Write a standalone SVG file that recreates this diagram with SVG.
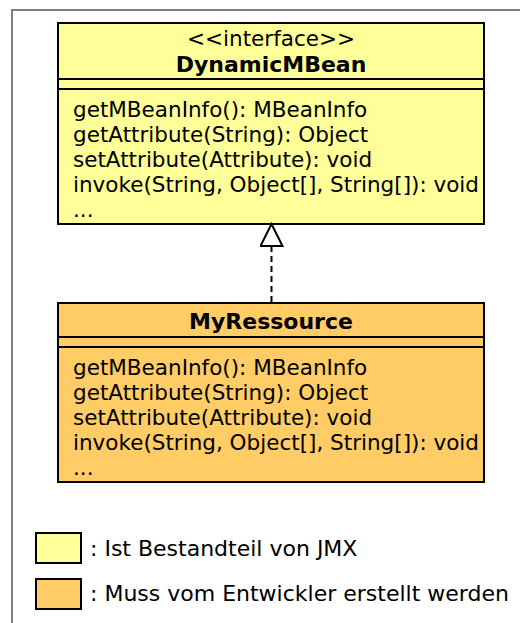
<svg xmlns="http://www.w3.org/2000/svg" width="520" height="623" viewBox="0 0 520 623">
  <style>
    .frame { fill: none; stroke: #7f7f7f; stroke-width: 2; }
    .box { stroke: #000; stroke-width: 2; }
    .iface { fill: #ffff99; }
    .impl { fill: #ffcc66; }
    .sep { stroke: #000; stroke-width: 2; }
    text { font-family: "DejaVu Sans", Verdana, sans-serif; font-size: 21.5px; fill: #000; }
    .title { font-weight: bold; font-size: 22px; text-anchor: middle; }
    .stereo { text-anchor: middle; }
    .note { font-size: 22px; }
    .edge { stroke: #000; stroke-width: 2; fill: none; }
  </style>
  <defs>
    <marker id="realize" markerWidth="26" markerHeight="26" refX="24" refY="12" orient="auto" markerUnits="userSpaceOnUse">
      <path d="M2,1 L24,12 L2,23 Z" fill="#fff" stroke="#000" stroke-width="2"/>
    </marker>
  </defs>

  <rect width="520" height="623" fill="#fff"/>
  <path class="frame" d="M12,623 V10 H520"/>

  <g id="DynamicMBean">
    <rect class="box iface" x="58" y="23" width="426" height="201"/>
    <line class="sep" x1="58" y1="79" x2="484" y2="79"/>
    <line class="sep" x1="58" y1="89" x2="484" y2="89"/>
    <text class="stereo" x="271" y="46">&lt;&lt;interface&gt;&gt;</text>
    <text class="title" x="271" y="72">DynamicMBean</text>
    <text x="73" y="117">getMBeanInfo(): MBeanInfo</text>
    <text x="73" y="142">getAttribute(String): Object</text>
    <text x="73" y="167">setAttribute(Attribute): void</text>
    <text x="73" y="192">invoke(String, Object[], String[]): void</text>
    <text x="73" y="217">...</text>
  </g>

  <g id="MyRessource">
    <rect class="box impl" x="58" y="303" width="426" height="179"/>
    <line class="sep" x1="58" y1="337" x2="484" y2="337"/>
    <line class="sep" x1="58" y1="347" x2="484" y2="347"/>
    <text class="title" x="271" y="329">MyRessource</text>
    <text x="73" y="375">getMBeanInfo(): MBeanInfo</text>
    <text x="73" y="400">getAttribute(String): Object</text>
    <text x="73" y="425">setAttribute(Attribute): void</text>
    <text x="73" y="450">invoke(String, Object[], String[]): void</text>
    <text x="73" y="475">...</text>
  </g>

  <g id="connectors">
    <line class="edge" x1="271.5" y1="302" x2="271.5" y2="224" stroke-dasharray="6,4" marker-end="url(#realize)"/>
  </g>

  <g id="legend">
    <rect class="box iface" x="36" y="533" width="45" height="30"/>
    <text class="note" x="90" y="556">: Ist Bestandteil von JMX</text>
    <rect class="box impl" x="36" y="579" width="45" height="30"/>
    <text class="note" x="90" y="601">: Muss vom Entwickler erstellt werden</text>
  </g>
</svg>
